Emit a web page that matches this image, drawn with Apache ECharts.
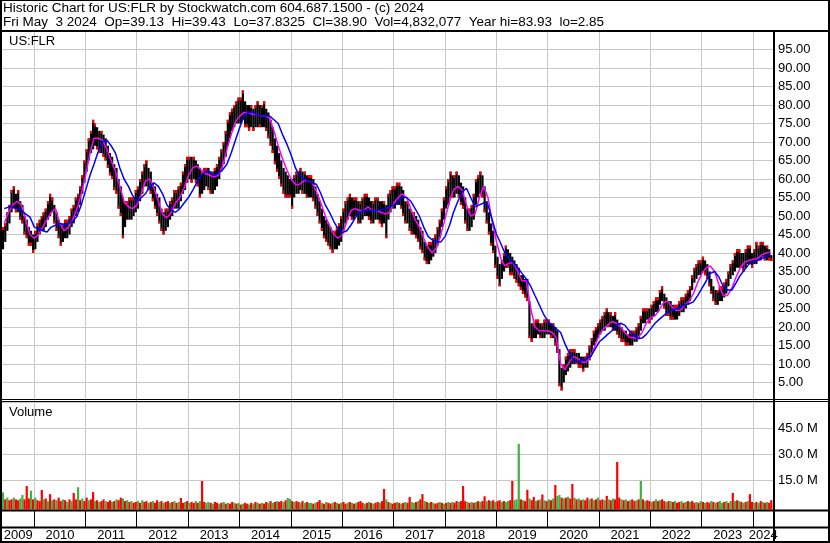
<!DOCTYPE html>
<html><head><meta charset="utf-8">
<script src="https://cdn.jsdelivr.net/npm/echarts@6/dist/echarts.min.js"></script>
<style>html,body{margin:0;padding:0;background:#fff}#c{width:830px;height:543px}</style>
</head><body><div id="c"></div>
<script>
// ---------------- DATA ----------------
const headerLine1 = 'Historic Chart for US:FLR by Stockwatch.com 604.687.1500 - (c) 2024';
const headerLine2 = 'Fri May  3 2024  Op=39.13  Hi=39.43  Lo=37.8325  Cl=38.90  Vol=4,832,077  Year hi=83.93  lo=2.85';
const symbolLabel = 'US:FLR';
const volumeLabel = 'Volume';
const yearBoundaries = [2010,2011,2012,2013,2014,2015,2016,2017,2018,2019,2020,2021,2022,2023,2024];
const yearLabels = [2009,2010,2011,2012,2013,2014,2015,2016,2017,2018,2019,2020,2021,2022,2023,2024];

// half-month price bars, mid-May 2009 .. early May 2024
const barHigh = [
47,48,51,53,57,58,56,57,54,53,50,49,47,46,45,46,48,49,50,51,52,54,56,55,
53,51,49,48,48,49,49,50,52,53,55,56,58,61,65,68,71,73,76,75,74,73,73,72,
71,69,67,66,64,63,60,58,55,54,54,55,55,55,57,58,60,62,64,65,63,62,59,58,
56,55,52,51,52,52,54,55,57,57,58,59,62,64,66,66,66,66,65,64,63,62,63,63,
63,62,62,63,64,66,68,70,73,76,78,79,80,81,82,82,83.93,81,80,80,80,79,80,81,
80,80,81,79,78,76,74,71,69,67,65,63,62,61,60,60,61,62,62,63,62,62,61,61,
61,60,58,56,54,52,50,49,48,47,46,46,47,48,50,52,54,55,56,55,55,55,54,54,
55,56,56,55,54,54,55,55,54,54,54,53,56,57,58,58,59,59,58,57,54,54,52,51,
51,50,49,47,46,43,42,43,43,44,45,47,49,52,55,58,60,62,61,61,62,61,59,58,
55,52,52,53,56,60,61,62,61,58,54,51,48,46,42,39,37,38,40,42,41,40,39,38,
37,36,34,34,33,33,27,21,21,22,22,21,21,22,22,22,21,21,20,19,14,9,10,12,
13,14,14,14,13,13,12,12,12,13,15,17,19,20,21,22,23,24,25,24,24,23,24,22,
21,20,19,19,18,19,19,19,20,21,23,25,25,25,25,26,27,28,28,30,31,29,28,27,
27,26,26,26,27,28,28,29,30,31,34,36,37,38,38,39,38,37,35,33,31,30,30,31,
31,32,33,35,37,38,40,41,41,40,40,41,42,42,40,41,43,42,43,43,42,42,41,39.43
];
const barLow = [
41,43,46,48,51,52,51,51,49,48,45,44,42,42,40,41,43,45,46,46,47,49,50,51,
48,46,44,42,43,44,44,45,47,48,50,51,53,56,59,62,65,67,68,69,68,67,67,66,
65,63,61,60,57,56,52,50,44,47,49,49,49,50,51,52,54,56,58,58,57,56,54,52,
50,48,46,45,46,47,49,50,52,52,52,54,56,57,59,60,59,60,59,58,55,56,57,58,
57,56,56,57,58,60,62,64,66,69,71,73,74,75,75,75,76,74,74,73,74,73,74,74,
74,74,74,73,71,69,67,64,62,60,58,56,55,55,55,52,55,56,56,57,56,56,55,55,
55,54,52,50,48,46,44,43,42,41,40,41,41,42,43,46,48,49,50,49,49,50,48,48,
49,50,50,49,48,48,49,49,48,47,48,44,49,51,52,52,53,53,52,50,48,48,46,45,
45,44,43,41,40,38,37,37,38,39,40,42,44,47,49,52,53,55,55,55,56,55,53,52,
48,46,46,47,49,53,55,56,55,51,48,45,42,40,36,33,31,33,35,36,36,34,34,33,
32,31,30,29,28,27,17,16,17,17,18,17,17,17,18,18,17,17,15,13,4,2.85,5,7,
8,9,10,10,10,9,9,8,9,9,11,13,15,16,17,18,19,19,20,20,20,19,19,18,
17,16,16,15,15,15,15,16,16,17,19,21,21,22,21,22,23,24,24,26,27,25,23,23,
22,22,22,22,23,24,24,25,26,27,30,32,33,34,34,35,34,33,31,29,27,26,26,27,
27,28,29,31,33,34,35,36,36,36,35,36,37,37,36,37,37,38,38,39,38,38,38,37.83
];
// volume (millions) per half-month period and up(g)/down(r) flag
const volume = [
8,4,5,3.5,4,5,4,3.5,4.5,6.5,4,11.7,4.5,9,4,5,3.5,3,9.4,4,4.5,3,7,3.5,
4,3.5,5,3,4,3.5,2.5,4,3,7.7,4,11,3.5,4.5,3,5,3.5,4,8.2,3,3.5,2.5,3,4,
3,2.5,3.5,2.5,3,4,3.5,5,4.5,3,3.5,2.5,3,2,2.5,3,2,3.5,2.5,3,2,2.5,3,2,
3.5,2.5,3,2,2.5,3,2,2.5,3,2,2.5,4.8,2,2.5,3,2,2.5,2,3,2,3,14.6,2.5,2,
2.5,2,1.5,2.5,2,1.5,2,2.5,1.5,2,1.5,2.5,2,1.5,2,1,1.5,2,1.5,1,2,1.5,2.5,2,
1.5,2,1.5,2.5,2,3,2,2.5,3,2.5,3,2.5,3.5,4.8,4.3,3,2.5,3,2.5,2,3,2,2.5,2,
2,1.5,2,2.5,3.6,2,1.5,2.5,2,1.5,2,2.5,2,1.5,2,2.5,1.5,2,2.5,2,1.5,2,2.5,3,
2,1.5,2,2.5,2,1.5,2,2.5,2,3,10,4,2.5,2,1.5,2,2.5,2,1.5,2,2.5,2,5.4,2.5,
2,2.5,3,4,7,3,2.5,2,2.5,2,1.5,2,2.5,2,1.5,2,2.5,2,2.5,2,3,2.5,3,11.7,
3,2.5,2,2.5,2,2.5,3,2.5,3,5.8,3,3.5,3,3.5,2.5,3,3.5,2.5,3,2.5,3,3.5,14.6,3.5,
4,36,4,3.5,3,9.5,4.5,3.5,5.4,3,3.5,4,6.8,3.5,3,4,3.5,4.5,12.3,6,6.5,5,4.5,5,
5.5,4.5,12.9,5,4,4.5,3.5,4,3.5,5,4,4.5,3.5,4,5,3.5,4,3.5,6,4,3.5,4.5,4,25.6,
5,4,3.5,4,3,3.5,4,3,3.5,4,14.6,4,3,3.5,3,2.5,3,4,3,3.5,4,3,2.5,3,
3,2.5,3,2,2.5,3,2,2.5,3,2.5,3,2,2.5,2,3,2.5,2,2.5,2,3,2.5,2,2.5,3,
2,2.5,3,2,3,7.7,3,3.5,3,2.5,2,2.5,3,7,2.5,2,2.5,2,3,2.5,2,2.5,2,3.6
];
const volumeDir =
'grgrrgrrggrrrgrgrrrgrgrg' + 'rgrrgrgrgrrgrgrrgrrgrgrr' + 'grrgrgrrgrgrgrrgrgrrgrgr' +
'rgrgrrgrgrgrrgrgrrgrgrrg' + 'grgrrgrgrgrrgrgrgrrgrgrg' + 'rgrrgrgrgrrgrggrgrrgrgrg' +
'grgrrgrgrrgrgrgrrgrgrgrr' + 'rgrgrgrrgrrgrgrrgrgrgrrg' + 'grgrrgrgrgrrgrgrgrgrrgrr' +
'rgrgrgrgrrgrgrgrrgrggrrg' + 'ggrgrrgrrgrgrgrgrgrggrgr' + 'grrgrgrgrrgrgrgrrgrgrgrr' +
'rgrgrgrrgrgrgrrgrgrgrrgr' + 'grgrrgrgrgrrgrgrgrrgrgrg' + 'grgrgrgrgrgrgrrgrgrgrgrr';
// monthly moving averages (magenta = short, blue = long)
const maShort = [
48,51,53,54,53,49,45,44,45,47,49,51,
52,48,46,47,49,52,56,61,67,71,71,70.5,
68,65,62,58,54,52.5,52,53,56,59.5,60,57.5,
54,50.5,49.5,51,53.5,55,57.5,61,63,63.5,62.5,61.5,
61,60.5,61,63.5,68,72,75.5,77,78,78,77.5,77.5,
77,77,76.5,73,69,65.5,62.5,60,58.5,58.5,59.5,59.5,
59,56.5,53.5,50,47.5,45,44,45,48.5,51.5,52,51.5,
51.5,52.5,51.5,51.5,51,50.5,51,53.5,55,56,55,52,
49,47,44,41.5,40,41.5,45,49.5,54,57,58,57,
53,50,50.5,55,58,55,48.5,43,38.5,36.5,37.3,37.3,
35,32.5,32.5,25,20,19,19,19,18.5,17,10,8.5,
10.5,12,11.5,10.5,10.5,12,15,18,19.5,20.5,21.5,21,
20,18.5,17.3,17,17,18.5,21,22.5,23,24.5,26.5,27,
25.5,24.5,24.5,26,27,29,32,34.5,36,36.5,35,31.5,
28.5,28.5,30.5,33.5,36,37.5,38,38.3,38.5,39.5,40,40.3
];
const maLong = [
52,52.4,52.4,52,51.6,50.5,49.7,47,46.5,46,45.7,47,
47.5,48,47.5,48,48.5,50,53,57,61,64,67.5,70,
70.5,69,67,63,60,58,55.5,54,55,56,58,59,
58,56,53,51.6,51,52,53.5,55,57,59,61,62,
62,61,61.5,62.5,64,67,70.5,74,77,78,78,77.5,
77,77,77,76,75,72,69.5,66.5,63,61,60,59.5,
59,58.5,56,53,51,48.5,46.5,45.5,46,47.5,49.5,51,
51.5,51.5,51.5,51.5,51.6,52,52.5,53,54,55,55,54,
52,50,47,44.5,43.5,43,43,44.5,47.5,51,54,56.5,
57.5,55,52.5,53,53.5,53,49,45,42.5,40,38.5,37.3,
36,34.5,33,31,28.5,26,23.5,21.5,20.5,19.5,18.5,15.5,
13,11,10.5,11,11.5,12,14,16,17,18,19,20.5,
21,20.5,19,18,16.8,17,18,19.5,21,22,23,24,
24.5,25,25.4,26,26.3,26.8,28.5,30.5,32.5,34.5,35,33.5,
31,30,30,32,34,35.5,37,37.5,38,38.5,39,39.5
];

// ---------------- CHART ----------------
const FONT = '"Liberation Sans", Arial, sans-serif';
const X_MIN = Date.UTC(2009, 4, 16), X_MAX = Date.UTC(2024, 4, 20);
const barDate = j => Date.UTC(2009, 4 + Math.floor((j + 1) / 2), (j + 1) % 2 ? 23 : 8);
const maDate = m => Date.UTC(2009, 5 + m, 1);

const priceData = barHigh.map((h, j) => {
  const l = barLow[j], mid = (h + l) / 2;
  const prev = j ? (barHigh[j - 1] + barLow[j - 1]) / 2 : mid;
  return [barDate(j), l, h, mid >= prev ? 1 : 0];
});
const volData = volume.map((v, j) => [barDate(j), v, volumeDir[j] === 'g' ? 1 : 0]);
const boundaryData = yearBoundaries.map(y => [Date.UTC(y, 0, 1), 0]);
const labelValues = yearLabels.map(y => {
  const a = Math.max(Date.UTC(y, 0, 1), X_MIN), b = Math.min(Date.UTC(y + 1, 0, 1), X_MAX);
  return (a + b) / 2;
});
const shortData = maShort.map((v, m) => [maDate(m), v]);
const longData = maLong.map((v, m) => [maDate(m), v]);

function gridLineRenderer(color) {
  return function (params, api) {
    const x = Math.floor(api.coord([api.value(0), 0])[0]) + 0.5;
    const cs = params.coordSys;
    return { type: 'line', shape: { x1: x, y1: cs.y, x2: x, y2: cs.y + cs.height },
      style: { stroke: color, lineWidth: 1 } };
  };
}

const chart = echarts.init(document.getElementById('c'), null, { renderer: 'canvas' });
const rect = (x, y, w, h) => ({ type: 'rect', z: 100, shape: { x, y, width: w, height: h }, style: { fill: '#000' } });
const txt = (s, x, y, size) => ({ type: 'text', z: 100, style: { text: s, x, y, fill: '#000', fontSize: size, fontFamily: FONT, verticalAlign: 'top' } });

chart.setOption({
  animation: false,
  backgroundColor: '#fff',
  grid: [
    { left: 2, top: 31, width: 771, height: 370 },
    { left: 2, top: 402.3, width: 771, height: 104 },
    { left: 2, top: 511, width: 771, height: 16 }
  ],
  xAxis: [
    { type: 'value', gridIndex: 0, min: X_MIN, max: X_MAX, show: false },
    { type: 'value', gridIndex: 1, min: X_MIN, max: X_MAX, show: false },
    { type: 'value', gridIndex: 2, min: X_MIN, max: X_MAX,
      axisLine: { show: false }, axisTick: { show: false }, splitLine: { show: false },
      axisLabel: { customValues: labelValues, formatter: v => String(new Date(v).getUTCFullYear()),
        color: '#000', fontSize: 13, fontFamily: FONT, margin: 1.5 } }
  ],
  yAxis: [
    { type: 'value', gridIndex: 0, position: 'right', min: 0, max: 100, interval: 5,
      axisLine: { show: false }, axisTick: { show: false },
      splitLine: { lineStyle: { color: '#c8c8c8', width: 1 } },
      axisLabel: { formatter: v => v.toFixed(2), showMinLabel: false, showMaxLabel: false,
        color: '#000', fontSize: 13, fontFamily: FONT, margin: 5 } },
    { type: 'value', gridIndex: 1, position: 'right', min: 0, max: 60, interval: 15,
      axisLine: { show: false }, axisTick: { show: false },
      splitLine: { lineStyle: { color: '#c8c8c8', width: 1 } },
      axisLabel: { formatter: v => v.toFixed(1) + ' M', showMinLabel: false, showMaxLabel: false,
        color: '#000', fontSize: 13, fontFamily: FONT, margin: 5 } },
    { type: 'value', gridIndex: 2, min: 0, max: 1, show: false }
  ],
  series: [
    { type: 'custom', name: 'yearGridPrice', xAxisIndex: 0, yAxisIndex: 0, z: 1, silent: true,
      data: boundaryData, renderItem: gridLineRenderer('#c8c8c8') },
    { type: 'custom', name: 'yearGridVol', xAxisIndex: 1, yAxisIndex: 1, z: 1, silent: true,
      data: boundaryData, renderItem: gridLineRenderer('#c8c8c8') },
    { type: 'custom', name: 'yearTicks', xAxisIndex: 2, yAxisIndex: 2, z: 1, silent: true,
      data: boundaryData, renderItem: gridLineRenderer('#000') },
    { type: 'custom', name: 'price', xAxisIndex: 0, yAxisIndex: 0, z: 3, silent: true,
      data: priceData,
      renderItem: function (params, api) {
        const lo = api.coord([api.value(0), api.value(1)]);
        const hi = api.coord([api.value(0), api.value(2)]);
        const h = Math.max(1, lo[1] - hi[1]);
        const up = api.value(3) === 1;
        const ty = up ? hi[1] : lo[1] - Math.min(3, h);
        return { type: 'group', children: [
          { type: 'rect', shape: { x: lo[0] - 1.1, y: hi[1], width: 2.2, height: h }, style: { fill: '#000' } },
          { type: 'rect', shape: { x: lo[0] - 1.1, y: ty, width: 2.2, height: Math.min(3, h) }, style: { fill: '#ff0000' } }
        ] };
      } },
    { type: 'custom', name: 'volume', xAxisIndex: 1, yAxisIndex: 1, z: 3, silent: true,
      data: volData,
      renderItem: function (params, api) {
        const top = api.coord([api.value(0), api.value(1)]);
        const base = api.coord([api.value(0), 0])[1] + 3.2;
        return { type: 'rect', shape: { x: top[0] - 1.1, y: top[1], width: 2.2, height: base - top[1] },
          style: { fill: api.value(2) === 1 ? '#40b040' : '#ff0000' } };
      } },
    { type: 'line', name: 'short', xAxisIndex: 0, yAxisIndex: 0, z: 4, data: shortData,
      showSymbol: false, silent: true, lineStyle: { color: '#ff00ff', width: 1.5 } },
    { type: 'line', name: 'long', xAxisIndex: 0, yAxisIndex: 0, z: 5, data: longData,
      showSymbol: false, silent: true, lineStyle: { color: '#0000ff', width: 1.5 } }
  ],
  graphic: [
    txt(headerLine1, 3, 1, 13.5),
    txt(headerLine2, 3, 15, 13.5),
    txt(symbolLabel, 9, 35, 13),
    txt(volumeLabel, 9, 406, 13),
    rect(0, 0, 830, 1),
    rect(0, 30, 830, 2),
    rect(0, 0, 2, 543),
    rect(828, 0, 2, 543),
    rect(773, 30, 2, 513),
    rect(0, 399, 830, 1),
    rect(0, 401, 830, 1),
    rect(0, 509.5, 830, 2),
    rect(0, 526.5, 830, 2),
    rect(0, 541, 830, 2)
  ]
});
</script>
</body></html>
